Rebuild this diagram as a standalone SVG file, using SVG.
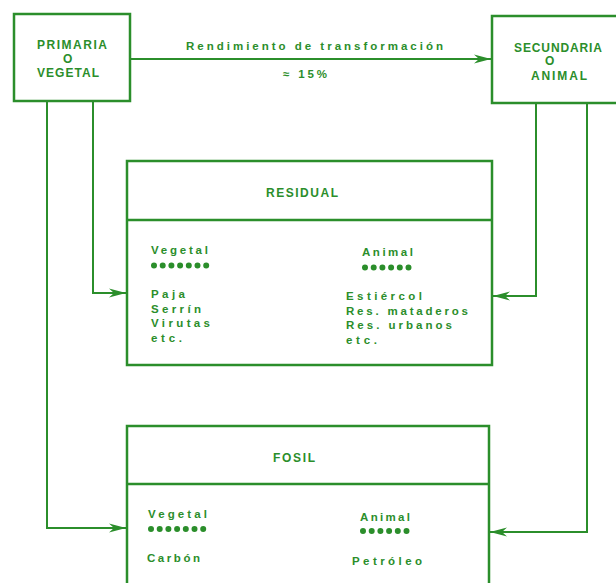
<svg xmlns="http://www.w3.org/2000/svg" width="616" height="583" viewBox="0 0 616 583">
<style>
.box{fill:none;stroke:#2b8e2b;stroke-width:2.5}
.con{fill:none;stroke:#2b8e2b;stroke-width:2}
.t{font-family:"Liberation Sans",Arial,sans-serif;font-weight:bold;fill:#2b8e2b}
.h{font-size:12px}
.b{font-size:11.5px}
.dots{stroke:#2b8e2b;stroke-width:6;stroke-linecap:round;stroke-dasharray:0 8.7;fill:none}
</style>
<defs>
<marker id="arr" markerUnits="userSpaceOnUse" markerWidth="18" markerHeight="12" refX="17" refY="6" orient="auto">
<path d="M0,1.5 L17,6 L0,10.5 L5,6 z" fill="#2b8e2b"/>
</marker>
</defs>
<rect width="616" height="583" fill="#fff"/>
<g id="connectors">
<path class="con" d="M130,59 H491" marker-end="url(#arr)"/>
<path class="con" d="M93,101 V293 H126" marker-end="url(#arr)"/>
<path class="con" d="M47,101 V528 H126" marker-end="url(#arr)"/>
<path class="con" d="M536,103 V296 H493" marker-end="url(#arr)"/>
<path class="con" d="M587,103 V532 H490" marker-end="url(#arr)"/>
<text class="t b" x="186" y="50" textLength="257" lengthAdjust="spacing">Rendimiento de transformación</text>
<text class="t b" x="283" y="78" textLength="44" lengthAdjust="spacing">≈ 15%</text>
</g>
<g id="primaria">
<rect class="box" x="14" y="14" width="116" height="87"/>
<text class="t h" x="37" y="49" textLength="70" lengthAdjust="spacing">PRIMARIA</text>
<text class="t h" x="63" y="63">O</text>
<text class="t h" x="37" y="77" textLength="62" lengthAdjust="spacing">VEGETAL</text>
</g>
<g id="secundaria">
<rect class="box" x="492" y="16" width="130" height="87"/>
<text class="t h" x="514" y="52" textLength="88" lengthAdjust="spacing">SECUNDARIA</text>
<text class="t h" x="545" y="65">O</text>
<text class="t h" x="531" y="80" textLength="56" lengthAdjust="spacing">ANIMAL</text>
</g>
<g id="residual">
<rect class="box" x="127" y="161" width="365" height="204"/>
<line class="box" x1="127" y1="220" x2="492" y2="220"/>
<text class="t h" x="266" y="197" textLength="72" lengthAdjust="spacing">RESIDUAL</text>
<text class="t b" x="151" y="254" textLength="57" lengthAdjust="spacing">Vegetal</text>
<path class="dots" d="M154,265.5 H210"/>
<text class="t b" x="362" y="256" textLength="51" lengthAdjust="spacing">Animal</text>
<path class="dots" d="M365,267.5 H413"/>
<text class="t b" x="151" y="298" textLength="34" lengthAdjust="spacing">Paja</text>
<text class="t b" x="151" y="313" textLength="50" lengthAdjust="spacing">Serrín</text>
<text class="t b" x="151" y="327" textLength="59" lengthAdjust="spacing">Virutas</text>
<text class="t b" x="151" y="342" textLength="31" lengthAdjust="spacing">etc.</text>
<text class="t b" x="346" y="300" textLength="76" lengthAdjust="spacing">Estiércol</text>
<text class="t b" x="346" y="315" textLength="122" lengthAdjust="spacing">Res. mataderos</text>
<text class="t b" x="346" y="329" textLength="106" lengthAdjust="spacing">Res. urbanos</text>
<text class="t b" x="346" y="344" textLength="31" lengthAdjust="spacing">etc.</text>
</g>
<g id="fosil">
<path class="box" d="M127,590 V426 H489 V590"/>
<line class="box" x1="127" y1="484" x2="489" y2="484"/>
<text class="t h" x="273" y="462" textLength="42" lengthAdjust="spacing">FOSIL</text>
<text class="t b" x="148" y="518" textLength="59" lengthAdjust="spacing">Vegetal</text>
<path class="dots" d="M151,529 H209"/>
<text class="t b" x="360" y="521" textLength="50" lengthAdjust="spacing">Animal</text>
<path class="dots" d="M363,531 H411"/>
<text class="t b" x="147" y="562" textLength="53" lengthAdjust="spacing">Carbón</text>
<text class="t b" x="352" y="565" textLength="70" lengthAdjust="spacing">Petróleo</text>
</g>
</svg>
